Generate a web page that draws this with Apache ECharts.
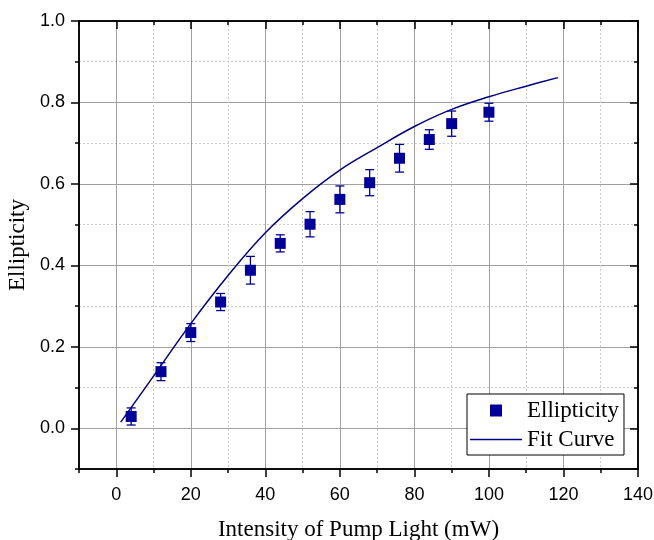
<!DOCTYPE html>
<html>
<head>
<meta charset="utf-8">
<script src="https://cdn.jsdelivr.net/npm/echarts@6/dist/echarts.min.js"></script>
<style>
  html, body { margin: 0; padding: 0; background: #fff; }
  #chart { width: 654px; height: 540px; }
</style>
</head>
<body>
<div id="chart"></div>
<script>
// measured points (pump power in mW)
const pumpPower = [4, 12, 20, 28, 36, 44, 52, 60, 68, 76, 84, 90, 100];
const ellipticity = [0.029, 0.139, 0.235, 0.310, 0.388, 0.454, 0.501, 0.562, 0.603, 0.663, 0.709, 0.748, 0.776];
const ellipticityErr = [0.021, 0.022, 0.022, 0.021, 0.034, 0.021, 0.031, 0.033, 0.032, 0.034, 0.024, 0.031, 0.022];
// fit curve
const fitX = [1.2, 10, 20, 30, 40, 50, 60, 70, 80, 90, 100, 110, 118.5];
const fitY = [0.015, 0.128, 0.257, 0.375, 0.480, 0.564, 0.634, 0.689, 0.741, 0.783, 0.814, 0.840, 0.861];
// ticks
const xMajor = [0, 20, 40, 60, 80, 100, 120, 140];
const xMinor = [-10, 10, 30, 50, 70, 90, 110, 130];
const yMajor = [0, 0.2, 0.4, 0.6, 0.8, 1.0];
const yMinor = [-0.1, 0.1, 0.3, 0.5, 0.7, 0.9];

const xRange = [-10, 140];
const yRange = [-0.1, 1.0];

const tickFont = { fontFamily: 'Liberation Sans', fontSize: 18, color: '#000' };
const nameFont = { fontFamily: 'Liberation Serif', fontSize: 23, color: '#000' };
const navy = '#000099';

function makeAxis(pos, ticks, major, inside, isY) {
  const ax = {
    type: 'value',
    position: pos,
    min: isY ? yRange[0] : xRange[0],
    max: isY ? yRange[1] : xRange[1],
    splitNumber: isY ? 5 : 7,
    axisLine: { show: true, onZero: false, lineStyle: { color: '#000', width: 1.5 } },
    axisTick: {
      show: true, inside: inside, length: major ? 8 : 4,
      customValues: ticks,
      lineStyle: { color: '#000', width: 1.5 }
    },
    axisLabel: { show: false },
    splitLine: { show: false }
  };
  return ax;
}

// bottom/left carry labels and grid lines, top/right only spines + inward ticks
const xBottom = makeAxis('bottom', xMajor, true, false, false);
xBottom.axisLabel = Object.assign({ show: true, margin: 17, customValues: xMajor }, tickFont);
xBottom.splitLine = { show: true, lineStyle: { color: '#a0a0a0', width: 1 } };
xBottom.name = 'Intensity of Pump Light (mW)';
xBottom.nameLocation = 'middle';
xBottom.nameGap = 49;
xBottom.nameTextStyle = nameFont;

const xBottomMinor = makeAxis('bottom', xMinor, false, false, false);
xBottomMinor.splitLine = { show: true, lineStyle: { color: '#cccccc', width: 1, type: [2, 2] } };

const yLeft = makeAxis('left', yMajor, true, false, true);
yLeft.axisLabel = Object.assign({
  show: true, margin: 14, customValues: yMajor,
  formatter: function (v) { return v.toFixed(1); }
}, tickFont);
yLeft.splitLine = { show: true, lineStyle: { color: '#a0a0a0', width: 1 } };
yLeft.name = 'Ellipticity';
yLeft.nameLocation = 'middle';
yLeft.nameGap = 42;
yLeft.nameTextStyle = nameFont;

const yLeftMinor = makeAxis('left', yMinor, false, false, true);
yLeftMinor.splitLine = { show: true, lineStyle: { color: '#cccccc', width: 1, type: [2, 2] } };

const option = {
  animation: false,
  backgroundColor: '#fff',
  grid: { left: 79, right: 16, top: 21, bottom: 71, outerBoundsMode: 'none' },
  legend: {
    orient: 'vertical',
    left: 467,
    top: 394,
    padding: [5, 5, 4, 3],
    itemGap: 6,
    itemWidth: 52,
    itemHeight: 12,
    backgroundColor: '#fff',
    borderColor: '#000',
    borderWidth: 1,
    borderRadius: 0,
    textStyle: { fontFamily: 'Liberation Serif', fontSize: 23, color: '#000', lineHeight: 23 },
    data: [
      { name: 'Ellipticity', icon: 'path://M0,0H10V10H0Z' },
      { name: 'Fit Curve', icon: 'path://M0,0H52V1.3H0Z' }
    ]
  },
  xAxis: [
    xBottomMinor,
    xBottom,
    makeAxis('top', xMinor, false, true, false),
    makeAxis('top', xMajor, true, true, false)
  ],
  yAxis: [
    yLeftMinor,
    yLeft,
    makeAxis('right', yMinor, false, true, true),
    makeAxis('right', yMajor, true, true, true)
  ],
  series: [
    {
      name: 'Fit Curve',
      type: 'line',
      xAxisIndex: 1,
      yAxisIndex: 1,
      data: fitX.map(function (x, i) { return [x, fitY[i]]; }),
      smooth: 0.4,
      showSymbol: false,
      symbol: 'none',
      lineStyle: { color: '#000080', width: 1.5 },
      itemStyle: { color: '#000080' },
      z: 3
    },
    {
      name: 'errbar',
      type: 'custom',
      xAxisIndex: 1,
      yAxisIndex: 1,
      data: pumpPower.map(function (x, i) { return [x, ellipticity[i], ellipticityErr[i]]; }),
      encode: { x: 0, y: 1 },
      renderItem: function (params, api) {
        const x = api.value(0), y = api.value(1), e = api.value(2);
        const hi = api.coord([x, y + e]);
        const lo = api.coord([x, y - e]);
        const hw = 4.5;
        const st = { stroke: navy, lineWidth: 1.3 };
        return {
          type: 'group',
          children: [
            { type: 'line', shape: { x1: hi[0], y1: hi[1], x2: lo[0], y2: lo[1] }, style: st },
            { type: 'line', shape: { x1: hi[0] - hw, y1: hi[1], x2: hi[0] + hw, y2: hi[1] }, style: st },
            { type: 'line', shape: { x1: lo[0] - hw, y1: lo[1], x2: lo[0] + hw, y2: lo[1] }, style: st }
          ]
        };
      },
      z: 4
    },
    {
      name: 'Ellipticity',
      type: 'scatter',
      xAxisIndex: 1,
      yAxisIndex: 1,
      data: pumpPower.map(function (x, i) { return [x, ellipticity[i]]; }),
      symbol: 'rect',
      symbolSize: 11,
      itemStyle: { color: navy, opacity: 1 },
      z: 5
    }
  ]
};

const chart = echarts.init(document.getElementById('chart'), null, { renderer: 'canvas' });
chart.setOption(option);
</script>
</body>
</html>
